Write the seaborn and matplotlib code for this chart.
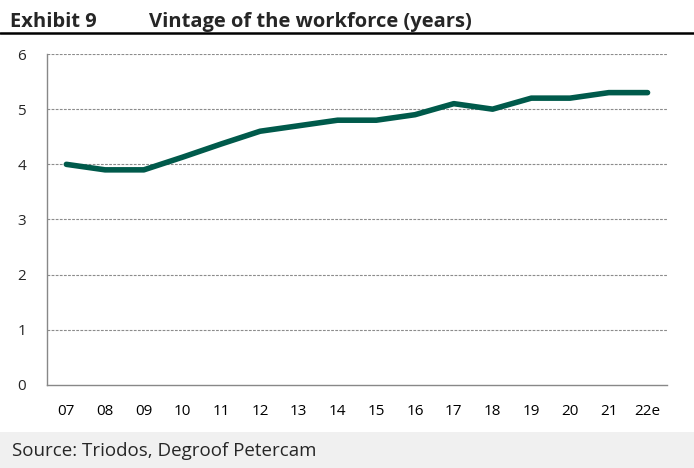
import matplotlib
matplotlib.use("Agg")
import matplotlib.pyplot as plt
import seaborn as sns
import pandas as pd
from matplotlib.patches import Rectangle
from matplotlib.lines import Line2D

years = ["07", "08", "09", "10", "11", "12", "13", "14", "15", "16", "17", "18", "19", "20", "21", "22e"]
vintage = [4.0, 3.9, 3.9, 4.13, 4.37, 4.6, 4.7, 4.8, 4.8, 4.9, 5.1, 5.0, 5.2, 5.2, 5.3, 5.3]

df = pd.DataFrame({"pos": range(len(years)), "vintage": vintage})

sns.set_style("white")
plt.rcParams["font.family"] = ["Open Sans", "DejaVu Sans"]

fig = plt.figure(figsize=(6.94, 4.68), dpi=100)
ax = fig.add_axes([0.0677, 0.1774, 0.8933, 0.7072])

sns.lineplot(data=df, x="pos", y="vintage", color="#005a4b", linewidth=4.0,
             solid_capstyle="round", ax=ax)

ax.set_xlim(-0.5, len(years) - 0.5)
ax.set_ylim(0, 6)
ax.set_yticks(range(7))
ax.set_xticks(range(len(years)))
ax.set_xticklabels(years)
ax.set_xticks([i - 0.5 for i in range(len(years) + 1)], minor=True)
ax.tick_params(axis="x", which="major", length=0, pad=14, labelsize=11, colors="#000000")
ax.tick_params(axis="x", which="minor", length=5, color="#888888", direction="out")
ax.tick_params(axis="y", length=6, color="#888888", labelsize=11, pad=9)
ax.set_xlabel("")
ax.set_ylabel("")

for y in range(1, 7):
    ax.axhline(y, color="#8c8c8c", linestyle=(0, (2.5, 1.2)), linewidth=0.8, zorder=0)

for s in ["top", "right"]:
    ax.spines[s].set_visible(False)
for s in ["left", "bottom"]:
    ax.spines[s].set_color("#888888")
    ax.spines[s].set_linewidth(1.0)

# header
fig.text(0.014, 0.943, "Exhibit 9", fontsize=14.5, fontweight="bold", va="baseline")
fig.text(0.214, 0.943, "Vintage of the workforce (years)", fontsize=14.5, fontweight="bold", va="baseline")
fig.add_artist(Line2D([0, 1], [0.929, 0.929], color="black", linewidth=1.8, transform=fig.transFigure))

# footer
fig.add_artist(Rectangle((0, 0), 1, 0.077, transform=fig.transFigure, facecolor="#f0f0f0", edgecolor="none"))
fig.text(0.017, 0.026, "Source: Triodos, Degroof Petercam", fontsize=13.5, va="baseline")

fig.savefig("out.png", dpi=100)
